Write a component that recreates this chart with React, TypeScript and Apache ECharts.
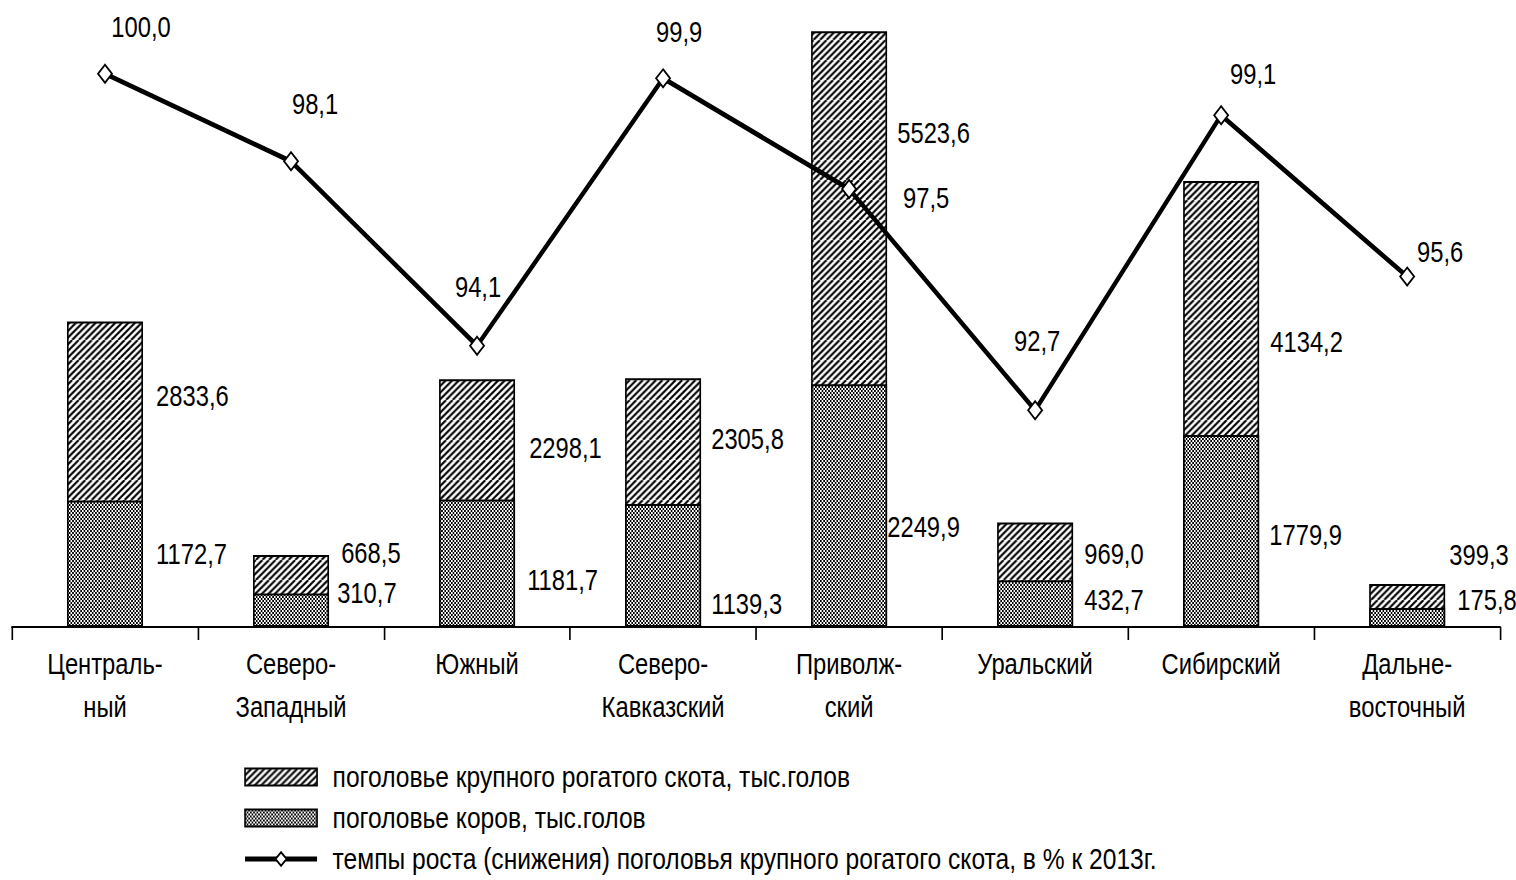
import React, { useEffect, useRef } from "react";
import * as echarts from "echarts";

const categories = [
  "Централь-\nный",
  "Северо-\nЗападный",
  "Южный",
  "Северо-\nКавказский",
  "Приволж-\nский",
  "Уральский",
  "Сибирский",
  "Дальне-\nвосточный",
];
const cattleTotal = [2833.6, 668.5, 2298.1, 2305.8, 5523.6, 969.0, 4134.2, 399.3];
const cowsTotal = [1172.7, 310.7, 1181.7, 1139.3, 2249.9, 432.7, 1779.9, 175.8];
const growthRate = [100.0, 98.1, 94.1, 99.9, 97.5, 92.7, 99.1, 95.6];

const seriesNames = [
  "поголовье крупного рогатого скота, тыс.голов",
  "поголовье коров, тыс.голов",
  "темпы роста (снижения) поголовья крупного рогатого скота, в % к 2013г.",
];

// label nudges in screen pixels (style only)
const cattleLabelNudge = [[9, -78], [8, -38], [10, -55], [6, -63], [6, -196], [7, -21], [7, -62], [0, -50]];
const cowsLabelNudge = [[9, -10], [4, -17], [8, 17], [6, 39], [-4, 21], [7, -4], [6, 4], [8, -17]];
const rateLabelNudge = [[36, -47], [24, -57], [1, -59], [16, -46], [77, 9], [2, -69], [32, -41], [33, -24]];

// horizontal squeeze to imitate a narrow typeface
const S = 0.82;
const W = 1516 / S;
const FONT = "'Liberation Sans', Arial, sans-serif";

const fmt = (v: number) => v.toFixed(1).replace(".", ",");
const nx = (n: number[]) => [n[0] / S, n[1]];

function hatchTile(): HTMLCanvasElement {
  const w = 24;
  const h = 20;
  const c = document.createElement("canvas");
  c.width = w;
  c.height = h;
  const g = c.getContext("2d")!;
  g.fillStyle = "#fff";
  g.fillRect(0, 0, w, h);
  g.strokeStyle = "#000";
  g.lineWidth = 2.3;
  g.beginPath();
  const p = w / 3;
  for (let x = -2 * w; x <= 2 * w; x += p) {
    g.moveTo(x, h);
    g.lineTo(x + w, 0);
  }
  g.stroke();
  return c;
}

function checkerTile(): HTMLCanvasElement {
  const c = document.createElement("canvas");
  c.width = 4;
  c.height = 4;
  const g = c.getContext("2d")!;
  g.fillStyle = "#fff";
  g.fillRect(0, 0, 4, 4);
  g.fillStyle = "#000";
  g.fillRect(0, 0, 2, 2);
  g.fillRect(2, 2, 2, 2);
  g.fillRect(1, 1, 1, 1);
  return c;
}

export default function App() {
  const ref = useRef<HTMLDivElement>(null);
  useEffect(() => {
    if (!ref.current) return;
    const chart = echarts.init(ref.current, null, { renderer: "svg" });
    const hatch = { image: hatchTile(), repeat: "repeat", imageWidth: 24, imageHeight: 20 } as any;
    const checker = { image: checkerTile(), repeat: "repeat", imageWidth: 4, imageHeight: 4 } as any;

    const labelBase = {
      show: true,
      color: "#000",
      fontFamily: FONT,
      fontSize: 29,
      formatter: (p: any) => fmt(p.value),
    };

    chart.setOption({
      animation: false,
      backgroundColor: "#fff",
      textStyle: { fontFamily: FONT },
      grid: { left: 12 / S, right: 16 / S, top: 23, bottom: 253, containLabel: false },
      legend: {
        orient: "vertical",
        left: 243 / S,
        top: 762,
        padding: 0,
        itemWidth: 72 / S,
        itemHeight: 17,
        itemGap: 11,
        data: [
          { name: seriesNames[0], icon: "rect" },
          { name: seriesNames[1], icon: "rect" },
          { name: seriesNames[2] },
        ],
        lineStyle: { width: 5 },
        textStyle: { fontFamily: FONT, fontSize: 30, color: "#000", lineHeight: 30, padding: [0, 0, 0, 14] },
      },
      xAxis: {
        type: "category",
        data: categories,
        boundaryGap: true,
        axisLine: { show: true, lineStyle: { color: "#000", width: 2 } },
        axisTick: { show: true, length: 13, interval: 0, lineStyle: { color: "#000", width: 2 } },
        axisLabel: {
          interval: 0,
          margin: 16,
          color: "#000",
          fontFamily: FONT,
          fontSize: 29,
          lineHeight: 43,
        },
        splitLine: { show: false },
      },
      yAxis: [
        { type: "value", min: 0, max: 5600, show: false, splitLine: { show: false } },
        { type: "value", min: 88, max: 101.1, show: false, splitLine: { show: false } },
      ],
      series: [
        {
          name: seriesNames[0],
          type: "bar",
          barWidth: 76 / S,
          barGap: "-100%",
          itemStyle: { color: hatch, borderColor: "#000", borderWidth: 2 },
          data: cattleTotal.map((v, i) => ({
            value: v,
            label: { ...labelBase, position: "right", distance: 5, offset: nx(cattleLabelNudge[i]) },
          })),
        },
        {
          name: seriesNames[1],
          type: "bar",
          barWidth: 76 / S,
          barGap: "-100%",
          itemStyle: { color: checker, borderColor: "#000", borderWidth: 2 },
          data: cowsTotal.map((v, i) => ({
            value: v,
            label: { ...labelBase, position: "right", distance: 5, offset: nx(cowsLabelNudge[i]) },
          })),
        },
        {
          name: seriesNames[2],
          type: "line",
          yAxisIndex: 1,
          symbol: "diamond",
          symbolSize: [14 / S, 18],
          lineStyle: { color: "#000", width: 5 },
          itemStyle: { color: "#fff", borderColor: "#000", borderWidth: 2 },
          z: 5,
          data: growthRate.map((v, i) => ({
            value: v,
            label: { ...labelBase, position: "inside", offset: nx(rateLabelNudge[i]) },
          })),
        },
      ],
    });
    return () => chart.dispose();
  }, []);
  return (
    <div
      ref={ref}
      style={{
        position: "fixed",
        left: 0,
        top: 0,
        width: W,
        height: 880,
        background: "#fff",
        transform: `scaleX(${S})`,
        transformOrigin: "0 0",
      }}
    />
  );
}
